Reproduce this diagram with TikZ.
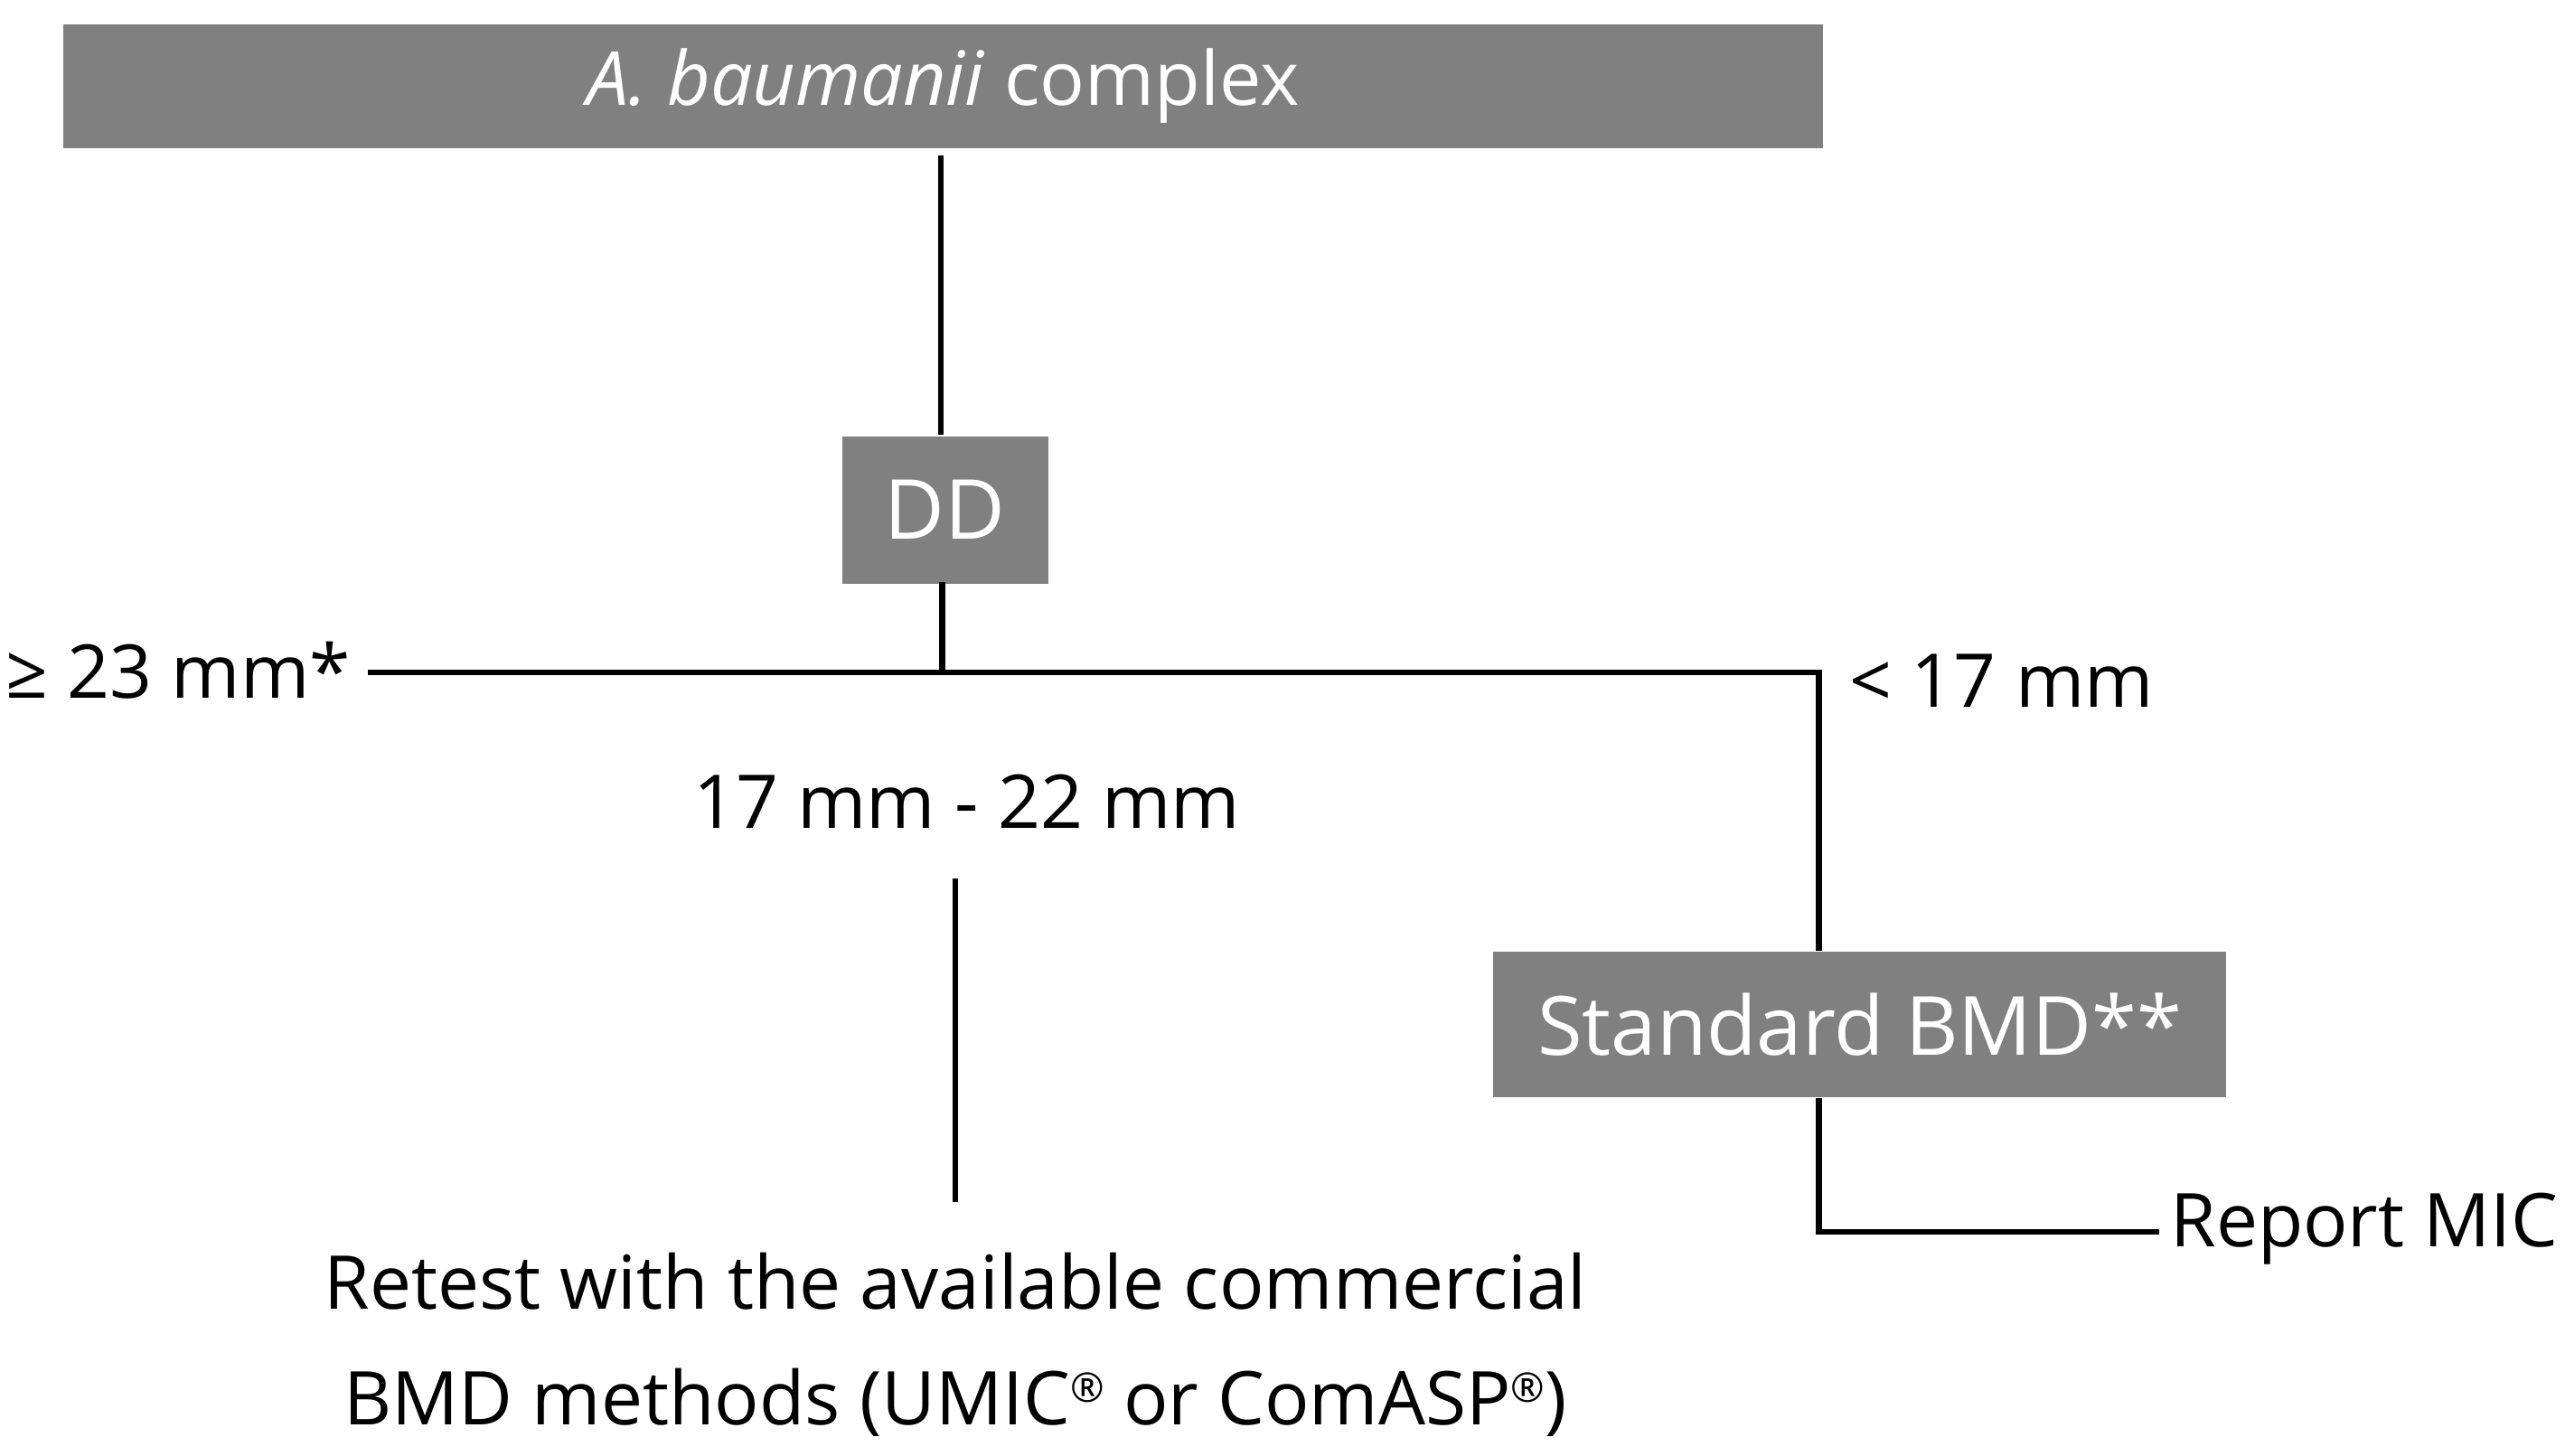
\documentclass[tikz,border=0pt]{standalone}
\usepackage{fontspec}
\setmainfont{Open Sans}
\newcommand{\regmark}{\raisebox{0.55ex}{\scalebox{0.55}{®}}}
\begin{document}
\begin{tikzpicture}[x=0.01cm,y=-0.01cm,
  gbox/.style={fill=black!50,text=white,inner sep=0pt,font=\fontsize{13}{16}\selectfont},
  lbl/.style={font=\fontsize{12.9}{16}\selectfont,inner sep=0pt},
  ln/.style={line width=1pt}]
\useasboundingbox (0,0) rectangle (1568,890);
\node[gbox,anchor=north west,minimum width=10.75cm,minimum height=0.76cm] (top) at (38,14) {\textit{A. baumanii} complex};
\node[gbox,anchor=north west,minimum width=1.26cm,minimum height=0.9cm,font=\fontsize{14.4}{18}\selectfont] (dd) at (514,266) {DD};
\node[gbox,anchor=north west,minimum width=4.48cm,minimum height=0.89cm,font=\fontsize{14.2}{18}\selectfont] (bmd) at (912,581) {Standard BMD**};
\node[lbl,anchor=east] (ge) at (215,410) {≥ 23 mm*};
\node[lbl,anchor=west] (lt) at (1130,416) {< 17 mm};
\node[lbl] (mid) at (591,490) {17 mm - 22 mm};
\node[lbl,anchor=west] (rep) at (1326,751) {Report MIC};
\node[lbl,align=center] (ret) at (584,822) {Retest with the available commercial\\[4pt]BMD methods (UMIC\regmark{} or ComASP\regmark)};
\coordinate (jl) at (225,411);
\coordinate (jc) at (576,411);
\coordinate (jr) at (1112,411);
\coordinate (mt) at (584,537);
\coordinate (mb) at (584,735);
\coordinate (bc) at (1112,753);
\coordinate (be) at (1320,753);
\draw[ln] (575,95) -- (575,266);
\draw[ln] (576,356) -- (jc);
\draw[ln] (jl) -- (jr) -- (bmd.north -| jr);
\draw[ln] (mt) -- (mb);
\draw[ln] (bmd.south -| bc) -- (bc) -- (be);
\end{tikzpicture}
\end{document}
